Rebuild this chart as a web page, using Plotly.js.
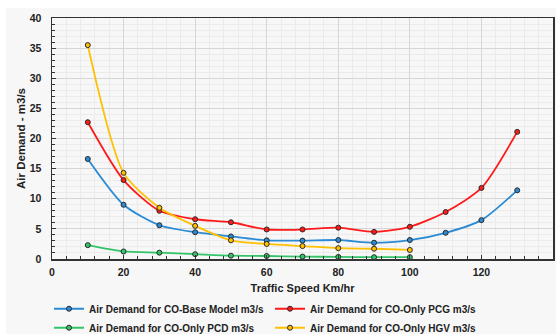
<!DOCTYPE html>
<html><head><meta charset="utf-8">
<script src="https://cdn.plot.ly/plotly-3.0.1.min.js"></script>
<style>
html,body{margin:0;padding:0;background:#ffffff;}
#chart{position:absolute;left:6px;top:8px;width:550px;height:326px;}
</style></head>
<body><div id="chart"></div>
<script>
const speeds = [10,20,30,40,50,60,70,80,90,100,110,120,130];
const speedsShort = [10,20,30,40,50,60,70,80,90,100];
const baseModel = [16.6,9.0,5.6,4.45,3.75,3.1,3.05,3.15,2.7,3.15,4.35,6.45,11.4];
const onlyPCG = [22.7,13.1,8.0,6.6,6.1,4.9,4.9,5.2,4.5,5.35,7.8,11.8,21.1];
const onlyPCD = [2.3,1.25,1.05,0.8,0.55,0.5,0.4,0.35,0.3,0.3];
const onlyHGV = [35.5,14.3,8.5,5.5,3.1,2.5,2.15,1.8,1.7,1.5];
const names = ["Air Demand for CO-Base Model m3/s","Air Demand for CO-Only PCG m3/s","Air Demand for CO-Only PCD m3/s","Air Demand for CO-Only HGV m3/s"];
const colors = ["#2a8ad4","#ff1a1a","#33c46a","#ffc000"];

function tr(x,y,i){
  return {x:x,y:y,name:names[i],type:'scatter',mode:'lines+markers',
    line:{color:colors[i],width:1.8,shape:'spline',smoothing:0.7},
    marker:{size:5,color:colors[i],line:{color:'#2a2a2a',width:1}}};
}
const data=[tr(speeds,baseModel,0),tr(speeds,onlyPCG,1),tr(speedsShort,onlyPCD,2),tr(speedsShort,onlyHGV,3)];
const F='Arial, "Liberation Sans", sans-serif';
const layout={
  width:550,height:326,
  paper_bgcolor:'#f7f7f7',plot_bgcolor:'#f7f7f7',
  margin:{l:46,r:3,t:10,b:75},
  font:{family:F,size:10,color:'#222',weight:'bold'},
  xaxis:{range:[0,140],dtick:20,tick0:0,showline:true,linecolor:'#333',linewidth:1.5,mirror:true,
    ticks:'inside',ticklen:4,tickcolor:'#333',gridcolor:'#d6d6d6',zeroline:false,
    ticklabelstandoff:3,
    tickfont:{family:F,size:10.5,weight:'bold',color:'#222'},
    minor:{dtick:4,ticks:'inside',ticklen:3,tickcolor:'#333',showgrid:true,gridcolor:'#ebebeb'},
    title:{text:'Traffic Speed Km/hr',font:{family:F,size:11,weight:'bold',color:'#222'},standoff:8}},
  yaxis:{range:[0,40],dtick:5,tick0:0,showline:true,linecolor:'#333',linewidth:1.5,mirror:true,
    ticks:'inside',ticklen:4,tickcolor:'#333',gridcolor:'#d6d6d6',zeroline:false,
    ticklabelstandoff:7,
    tickfont:{family:F,size:10.5,weight:'bold',color:'#222'},
    minor:{dtick:1,ticks:'inside',ticklen:3,tickcolor:'#333',showgrid:true,gridcolor:'#ebebeb'},
    title:{text:'Air Demand - m3/s',font:{family:F,size:11.5,weight:'bold',color:'#222'},standoff:1}},
  legend:{orientation:'h',xref:'container',yref:'container',x:0.48,xanchor:'center',y:0.122,yanchor:'top',
    entrywidth:176,entrywidthmode:'pixels',traceorder:'normal',
    font:{family:F,size:10,weight:'bold',color:'#222'},bgcolor:'rgba(0,0,0,0)',itemwidth:30,tracegroupgap:0},
  showlegend:true
};
Plotly.newPlot('chart',data,layout,{displayModeBar:false,staticPlot:true});
</script></body></html>
